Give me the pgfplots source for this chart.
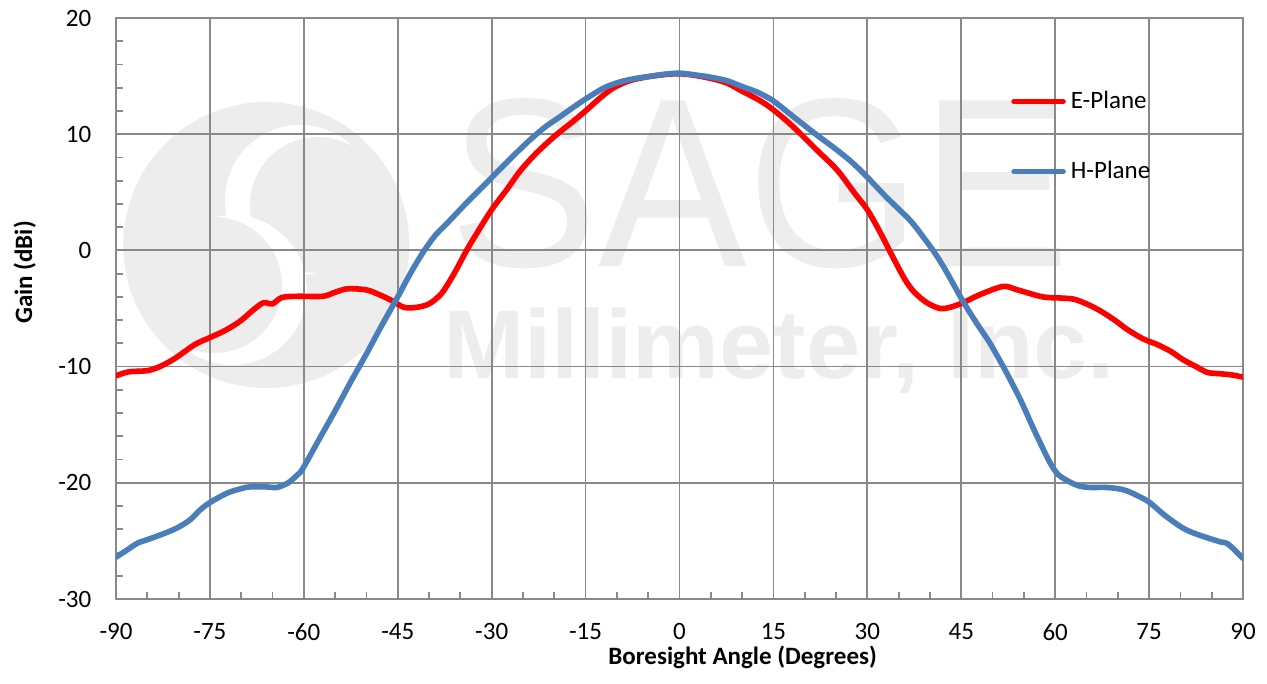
\documentclass[border=0pt]{standalone}
\usepackage{fontspec}
\setmainfont{Carlito}
\newfontfamily\wmfont{Liberation Sans}
\usepackage{pgfplots}
\pgfplotsset{compat=1.18}
\definecolor{gridgray}{RGB}{137,137,137}
\definecolor{eplane}{RGB}{255,0,0}
\definecolor{hplane}{RGB}{74,126,187}
\definecolor{wm}{RGB}{237,237,237}

\pgfplotstableread{
x y
-90 -10.8
-88 -10.45
-85 -10.35
-83 -10.0
-80.6 -9.3
-77.4 -8.1
-75 -7.5
-72.6 -6.9
-70.2 -6.1
-67.8 -5.0
-66.4 -4.5
-65 -4.6
-63.5 -4.05
-61 -3.95
-57 -3.95
-55 -3.6
-53 -3.3
-50 -3.4
-48 -3.8
-46 -4.3
-44 -4.9
-42 -4.9
-40 -4.6
-38 -3.7
-36 -2.0
-34 0.0
-32 1.8
-30 3.5
-27.5 5.3
-25.5 6.8
-23 8.3
-20 9.8
-17 11.1
-14.8 12.1
-12.5 13.2
-10.5 14.0
-8 14.6
-5 14.95
-2 15.15
0 15.2
2 15.1
5 14.8
7.6 14.4
10 13.7
12.5 13.0
14.5 12.3
17 11.2
19.2 10.1
22 8.6
25.2 6.9
28 4.9
30 3.5
32 1.6
34 -0.5
36 -2.5
37.5 -3.6
39.5 -4.5
41.6 -5.0
43.2 -4.9
45.3 -4.5
48 -3.8
51.7 -3.1
54 -3.4
58 -4.0
61 -4.1
63 -4.2
65 -4.6
67.2 -5.2
69.5 -6.0
71.5 -6.8
74 -7.6
76.3 -8.1
78.5 -8.7
80.4 -9.4
82.5 -10.0
84.3 -10.5
86 -10.6
88 -10.7
90 -10.9
}\eplanedata

\pgfplotstableread{
x y
-90 -26.4
-88 -25.7
-86.6 -25.2
-84.5 -24.8
-82.5 -24.4
-80.3 -23.9
-78.2 -23.2
-76.5 -22.3
-75 -21.7
-72.3 -20.9
-70 -20.5
-68.6 -20.35
-66 -20.35
-64.3 -20.4
-62.5 -20.0
-61 -19.3
-60.2 -18.8
-57.5 -16.2
-55 -13.8
-52.5 -11.3
-50 -8.9
-47.5 -6.4
-45 -4.0
-43 -2.0
-41 -0.2
-39 1.3
-37 2.4
-34 4.1
-30.3 6.1
-27 7.9
-23.9 9.5
-21.5 10.6
-19.1 11.5
-17 12.3
-14.8 13.1
-12 14.0
-9.5 14.5
-7 14.8
-5 14.95
-2.5 15.15
0 15.25
2.5 15.1
5 14.9
7.6 14.6
10 14.1
12.5 13.6
14.9 12.9
17.5 11.8
20.8 10.4
22.5 9.7
25 8.7
27.5 7.6
30 6.3
33 4.6
36.8 2.6
39 1.1
41 -0.4
42.7 -1.9
45.3 -4.4
47.5 -6.3
49.6 -8.0
52 -10.3
54.4 -12.8
56.5 -15.3
58 -17.0
59.2 -18.3
60.5 -19.3
62.4 -19.95
64 -20.3
65.6 -20.4
68 -20.4
70 -20.5
71.5 -20.7
73.5 -21.2
75.1 -21.7
77.5 -22.8
80.4 -23.9
82.5 -24.4
84.7 -24.8
86.5 -25.1
87.4 -25.2
88.5 -25.7
90 -26.5
}\hplanedata

\begin{document}
\begin{tikzpicture}
\begin{axis}[
    name=ax,
    set layers,
    scale only axis,
    width=563.5pt,
    height=290.5pt,
    xmin=-90, xmax=90,
    ymin=-30, ymax=20,
    xtick={-90,-75,...,90},
    ytick={-30,-20,...,20},
    minor x tick num=2,
    minor y tick num=4,
    xtick pos=left, ytick pos=left,
    tick align=inside,
    major tick length=0pt,
    minor tick length=3.5pt,
    grid=major,
    grid style={gridgray, line width=0.9pt},
    axis line style={gridgray, line width=0.9pt},
    minor tick style={gridgray, line width=0.9pt},
    /pgf/number format/assume math mode=true,
    ticklabel style={font=\fontsize{12.5}{15}\selectfont},
    xticklabel style={yshift=-8.8pt},
    yticklabel style={xshift=-8.8pt},
    xlabel={Boresight Angle (Degrees)},
    ylabel={Gain (dBi)},
    label style={font=\fontsize{12.5}{15}\selectfont\bfseries},
    xlabel style={at={(axis description cs:0.556,-0.1135)}, anchor=base},
    ylabel style={at={(axis description cs:-0.0745,0.562)}, anchor=base},
    legend style={at={(axis description cs:0.794,0.796)}, anchor=west,
        draw=none, fill=none, inner sep=0pt, row sep=24.8pt, column sep=2.5pt,
        nodes={inner sep=0pt}, font=\fontsize{12.5}{15}\selectfont},
    legend cell align=left,
    legend image code/.code={\draw[#1, line cap=round] (0pt,0pt) -- (24.5pt,0pt);},
]
\begin{pgfonlayer}{axis background}
% watermark logo
\fill[wm] (axis cs:-66,0.46) circle[radius=71.5pt];
\begin{scope}
\clip (axis cs:-60.61,4.34) circle[radius=37.5pt];
\fill[white] (axis cs:-60.61,4.34) circle[radius=37.5pt];
\fill[wm] (axis cs:-57.74,3.91) circle[radius=34pt];
\end{scope}
\begin{scope}
\clip (axis cs:-71.47,-3.41) circle[radius=37.5pt];
\fill[white] (axis cs:-71.47,-3.41) circle[radius=37.5pt];
\fill[wm] (axis cs:-74.35,-2.98) circle[radius=34pt];
\end{scope}
\node[wm, inner sep=0pt, anchor=north, align=center, font=\fontsize{10}{56pt}\selectfont]
  at (axis cs:15.9,13.1)
  {\resizebox{310pt}{84pt}{\wmfont SAGE}\hspace*{19pt}\\
   \resizebox{336pt}{!}{\wmfont\bfseries Millimeter, Inc.}};
\end{pgfonlayer}
\addplot[eplane, line width=2.8pt, line cap=round, line join=round, smooth] table {\eplanedata};
\addplot[hplane, line width=2.8pt, line cap=round, line join=round, smooth] table {\hplanedata};
\legend{E-Plane, H-Plane}
\end{axis}
\path (ax.south west) ++(-58pt,-42pt) coordinate (bl);
\path (ax.north east) ++(12pt,9pt) coordinate (tr);
\path (bl) rectangle (tr);
\end{tikzpicture}
\end{document}
